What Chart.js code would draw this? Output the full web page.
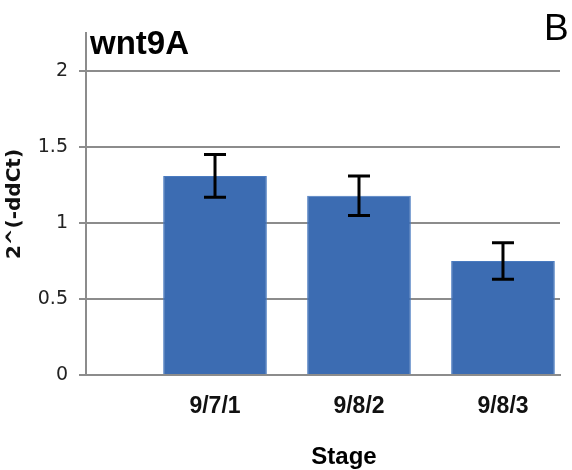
<!DOCTYPE html>
<html>
<head>
<meta charset="utf-8">
<script src="https://cdn.jsdelivr.net/npm/chart.js@4.4.1/dist/chart.umd.min.js"></script>
<style>
  body { margin: 0; background: #fff; }
  #wrap { width: 572px; height: 470px; }
</style>
</head>
<body>
<div id="wrap"><canvas id="chart" width="572" height="470"></canvas></div>
<script>
// data
const stages = ['9/7/1', '9/8/2', '9/8/3'];
const expression = [1.31, 1.18, 0.75];
const errors = [0.14, 0.13, 0.12];
const yTicks = [0, 0.5, 1, 1.5, 2];

const barColor = '#3c6cb2';
const gridColor = '#8c8c8c';

// error bars drawn from the data through the y scale
const errorBarPlugin = {
  id: 'errorBars',
  afterDatasetsDraw(chart) {
    const ctx = chart.ctx;
    const meta = chart.getDatasetMeta(0);
    const y = chart.scales.y;
    ctx.save();
    ctx.strokeStyle = '#000';
    ctx.lineWidth = 3;
    meta.data.forEach(function(bar, i) {
      const top = y.getPixelForValue(expression[i] + errors[i]);
      const bot = y.getPixelForValue(expression[i] - errors[i]);
      ctx.beginPath();
      ctx.moveTo(bar.x, top); ctx.lineTo(bar.x, bot);
      ctx.moveTo(bar.x - 11, top); ctx.lineTo(bar.x + 11, top);
      ctx.moveTo(bar.x - 11, bot); ctx.lineTo(bar.x + 11, bot);
      ctx.stroke();
    });
    ctx.restore();
  }
};

// panel texts
const labelsPlugin = {
  id: 'panelText',
  afterDraw(chart) {
    const ctx = chart.ctx;
    ctx.save();
    ctx.fillStyle = '#000';
    ctx.textBaseline = 'alphabetic';
    ctx.textAlign = 'left';
    ctx.font = 'bold 33px "Liberation Sans", Arial, sans-serif';
    ctx.fillText('wnt9A', 90, 54);
    ctx.font = '37px "Liberation Sans", Arial, sans-serif';
    ctx.fillText('B', 544, 40);
    ctx.textAlign = 'center';
    ctx.font = 'bold 24px "Liberation Sans", Arial, sans-serif';
    ctx.fillText('Stage', 344, 464);
    ctx.restore();
  }
};

new Chart(document.getElementById('chart'), {
  type: 'bar',
  data: {
    datasets: [{
      data: stages.map((s, i) => ({ x: i + 1, y: expression[i] })),
      backgroundColor: barColor,
      borderColor: '#4a7bc0',
      borderWidth: 1,
      categoryPercentage: 1,
      barPercentage: 0.72
    }]
  },
  options: {
    responsive: false,
    animation: false,
    layout: { padding: { top: 33, right: 12, left: 0, bottom: 0 } },
    plugins: {
      legend: { display: false },
      tooltip: { enabled: false }
    },
    scales: {
      x: {
        type: 'linear',
        offset: false,
        min: 0.104,
        max: 3.396,
        afterBuildTicks(scale) {
          scale.ticks = stages.map((s, i) => ({ value: i + 1 }));
        },
        afterFit(scale) { scale.height = 95; },
        grid: { display: false, drawTicks: false },
        border: { display: true, color: gridColor, width: 2 },
        ticks: {
          autoSkip: false,
          maxRotation: 0,
          padding: 18,
          color: '#111',
          font: { family: '"Liberation Sans", Arial, sans-serif', size: 23, weight: 'bold' },
          callback: (v) => stages[v - 1]
        }
      },
      y: {
        min: 0,
        max: 2.25,
        afterBuildTicks(scale) {
          scale.ticks = yTicks.map(v => ({ value: v }));
        },
        afterFit(scale) { scale.width = 86; },
        grid: { color: gridColor, lineWidth: 2, tickLength: 7 },
        border: { display: true, color: gridColor, width: 2 },
        ticks: {
          padding: 11,
          color: '#222',
          font: { family: '"DejaVu Sans", sans-serif', size: 19 },
          callback: (v) => String(v)
        },
        title: {
          display: true,
          text: '2^(-ddCt)',
          color: '#111',
          padding: { top: 3, bottom: 0 },
          font: { family: '"DejaVu Sans", sans-serif', size: 20, weight: 'bold' }
        }
      }
    }
  },
  plugins: [errorBarPlugin, labelsPlugin]
});
</script>
</body>
</html>
